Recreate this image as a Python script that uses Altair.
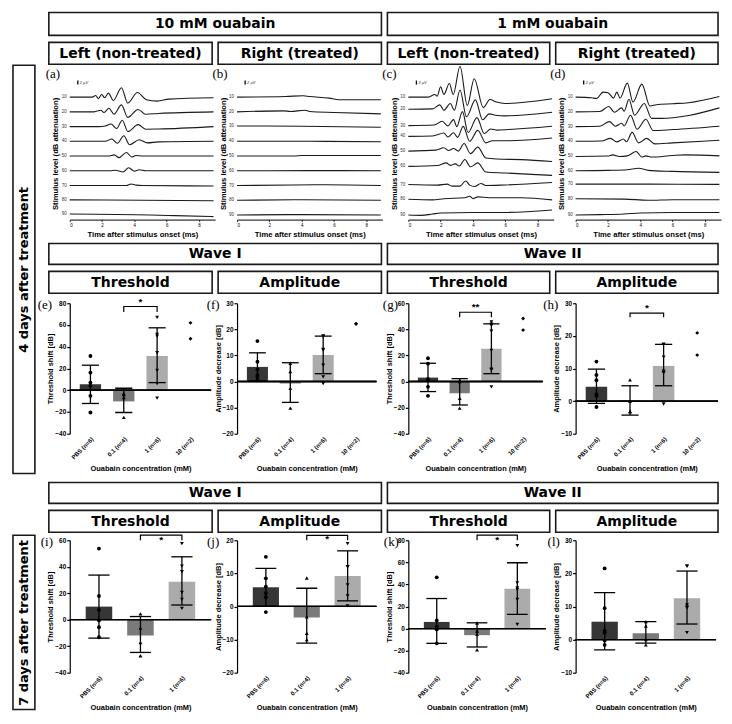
import altair as alt
import pandas as pd

SANS = "Liberation Sans"
HEAD = "DejaVu Sans"
SERIF = "Liberation Serif"

# ---------------- ABR traces (a)-(d): (time ms, deflection µV) for each level ----------------
LEVELS = ["10", "20", "30", "40", "50", "60", "70", "80", "90"]
TIME_TICKS = [0, 2, 4, 6, 8]
SCALE_BAR_UV = [6.3, 8.3]
SCALE_BAR_T = 0.5
SCALE_BAR_LABEL = "2 µV"

TRACES_A = [
    [(0, 0), (1.4, 0), (1.61, 0.8), (1.77, -0.8), (1.98, 1.3), (2.16, -0.3), (2.39, 2.0), (2.7, -1.7),
     (3.2, 4.7), (3.59, -3.0), (4.19, 2.3), (4.74, -1.3), (5.42, -2.0), (6.14, -1.0), (8.9, -0.3)],
    [(0, 0), (1.5, 0), (1.92, 0.8), (2.12, -0.3), (2.43, 1.8), (2.74, -1.2), (3.2, 3.5), (3.59, -2.8),
     (4.23, 1.2), (4.7, -1.2), (5.5, -0.8), (8.9, 0)],
    [(0, 0), (1.8, 0), (2.2, 0.3), (2.56, 1.3), (2.9, -1.0), (3.25, 3.2), (3.6, -2.5), (4.23, 1.0),
     (4.7, -1.3), (5.5, -1.2), (8.9, 0)],
    [(0, 0), (2.2, 0), (2.6, 1.2), (2.95, -1.0), (3.35, 2.8), (3.7, -1.7), (4.3, 0.8), (4.8, -0.8),
     (5.5, -0.3), (8.9, 0)],
    [(0, 0), (2.4, 0), (2.75, 0.6), (3.05, -0.8), (3.5, 1.8), (3.85, -0.5), (4.1, 0.3), (4.5, 0), (8.9, 0)],
    [(0, 0), (2.5, 0), (2.8, 0.3), (3.3, -0.6), (3.65, 1.5), (4.0, -0.2), (4.3, 0.5), (4.7, 0), (8.9, 0)],
    [(0, 0), (3.5, 0), (3.8, 0.8), (4.1, 0.2), (4.5, 0), (8.9, -0.2)],
    [(0, 0.2), (4.5, 0), (8.9, -0.2)],
    [(0, 0.5), (5, 0), (6.5, -0.3), (8.9, -0.8)],
]
TRACES_B = [
    [(0, 0), (3, 0.3), (4.1, 0.7), (4.5, 0.3), (5.7, -0.5), (6.3, -1.3), (8.9, -1.3)],
    [(0, 0), (2.9, 0.5), (3.3, 0.2), (4.2, 0.8), (4.5, 0.2), (6, -0.3), (8.9, -1.0)],
    [(0, 0.3), (4, 0.2), (8.9, -0.3)],
    [(0, 0), (4.5, 0), (8.9, -0.2)],
    [(0, 0), (3.5, 0), (4, 0.3), (8.9, 0.3)],
    [(0, 0), (4.5, 0.1), (8.9, 0)],
    [(0, 0), (3.5, 0.3), (5.5, 0.4), (8.9, 0)],
    [(0, 0), (4, 0.3), (8.9, 0)],
    [(0, 0), (4, 0.2), (8.9, 0)],
]
TRACES_C = [
    [(0, 0), (1.24, 0), (1.65, 1.3), (1.79, 0.5), (2.0, 5.2), (2.2, 1.3), (2.54, 6.8), (2.78, 1.3),
     (3.2, 15.5), (3.65, -4.2), (4.08, 9.2), (4.64, -5.3), (5.05, -1.2), (5.46, -2.5), (5.98, -3.2), (8.9, -0.8)],
    [(0, 1.3), (1.5, 1.5), (1.95, 3.5), (2.2, 0.8), (2.6, 4.2), (2.85, 0.8), (3.2, 11.0), (3.6, -2.5),
     (4.15, 6.0), (4.6, -4.0), (5.0, -1.0), (5.4, -1.7), (6, -2.0), (8.9, -0.2)],
    [(0, 0.5), (1.6, 0.8), (2.1, 2.7), (2.45, 0.3), (2.8, 3.5), (3.0, 0), (3.35, 7.5), (3.7, -3.0),
     (4.25, 4.5), (4.7, -3.5), (5.1, -1.2), (5.5, -1.8), (6.2, -1.5), (8.9, 0.2)],
    [(0, 2.5), (1.5, 2.7), (2.2, 4.2), (2.45, 2.2), (2.8, 4.3), (3.05, 2.0), (3.4, 7.5), (3.8, 0),
     (4.3, 5.5), (4.8, -0.8), (5.2, 0.3), (6, 0.3), (8.9, 1.7)],
    [(0, 2.5), (1.7, 3.0), (2.2, 4.2), (2.5, 2.8), (2.8, 3.8), (3.1, 2.5), (3.45, 6.3), (3.85, 1.2),
     (4.3, 4.5), (4.8, -1.0), (5.5, -1.5), (7, -1.8), (8.9, -2.7)],
    [(0, 2.2), (1.8, 2.7), (2.35, 4.0), (2.6, 2.7), (2.9, 3.5), (3.15, 2.4), (3.5, 5.7), (3.85, 2.0),
     (4.3, 4.0), (4.8, -0.6), (6, -1.1), (8.9, -2.3)],
    [(0, 0.5), (1.8, 0.2), (2.4, 0.7), (2.7, -0.3), (3.2, -0.3), (3.55, 2.3), (3.8, 0.2), (4.1, -0.5),
     (4.5, 1.0), (4.8, 0), (6, 0.3), (8.9, 1.5)],
    [(0, 0.5), (1.5, 0.2), (2.2, 0.8), (3.5, 1.3), (3.8, 2.0), (4.0, 0.8), (4.3, 1.7), (5, 1.3),
     (7, 1.3), (8.9, 0.2)],
    [(0, 0), (0.8, -0.2), (1.5, 0.5), (2, 1.0), (4, 1.3), (6, 1.3), (8.9, 2.5)],
]
TRACES_D = [
    [(0, 0), (1.0, -0.3), (1.3, -0.7), (1.7, 2.5), (2.0, 2.2), (2.35, -0.5), (2.55, 2.5), (2.75, -0.5),
     (3.2, 7.0), (3.55, -2.5), (4.1, 6.5), (4.6, -4.5), (5, -3.8), (6, -3.3), (7, -2.8), (8.9, 0.3)],
    [(0, 0), (1.5, 0.2), (2.05, 2.7), (2.4, -0.2), (2.85, 2.0), (3.0, 0.3), (3.3, 6.3), (3.65, -1.7),
     (4.25, 4.2), (4.7, -3.3), (5.3, -3.3), (7, -1.8), (8.9, 2.0)],
    [(0, 0), (1.5, 0.2), (2.1, 2.5), (2.45, 0.2), (2.85, 1.7), (3.0, 0.3), (3.4, 5.7), (3.8, -1.3),
     (4.35, 3.7), (4.8, -2.0), (6, -1.5), (8.9, 0.2)],
    [(0, 0), (1.6, 0.2), (2.15, 1.5), (2.55, -0.3), (2.95, 1.2), (3.15, -0.2), (3.5, 4.5), (3.9, -0.8),
     (4.4, 1.5), (4.9, -1.3), (6, -0.8), (8.9, 0.5)],
    [(0, -0.2), (2.0, 0), (2.3, 0.6), (2.7, -0.2), (3.2, 0.1), (3.75, 2.3), (4.1, -0.5), (4.35, 0.1),
     (4.7, -0.5), (6, 0.3), (6.8, 0.6), (8.9, 0.1)],
    [(0, 0), (2, 0.2), (3.2, 0.5), (3.9, 1.3), (4.5, 0.2), (6, -0.3), (8.9, -0.8)],
    [(0, 0.7), (4.5, 0.7), (8.9, 0.6)],
    [(0, 0.8), (3, 0.6), (4.5, 0), (6, 0.3), (8.9, 0.3)],
    [(0, 0), (1.5, 0.2), (3, 0.5), (4, 1.0), (6, 1.3), (8.9, 1.3)],
]

# ---------------- bar panels ----------------
CATS_4D = ["PBS (n=6)", "0.1 (n=4)", "1 (n=6)", "10 (n=2)"]
CATS_7D = ["PBS (n=6)", "0.1 (n=4)", "1 (n=6)"]
BAR_COLORS = ["#363636", "#7a7a7a", "#ababab", "#cccccc"]
SHAPES = ["circle", "triangle-up", "triangle-down", "diamond"]

E_POINTS = [[31.5, 16.2, 7.0, 4.0, -5.2, -20.5], [-3.0, -4.0, -6.7, -25.0],
            [67.0, 51.3, 49.8, 34.5, 18.3, 6.0, -7.3], [62.0, 47.3]]
E_MEAN = [5.5, -10.3, 31.5]
E_LOW = [-12.2, -20.5, 7.0]
E_HIGH = [23.0, 1.8, 57.4]

F_POINTS = [[15.5, 7.6, 4.5, 2.5, 1.8, 0.5], [7.0, 3.8, -2.6, -10.2],
            [17.5, 17.3, 12.3, 12.0, 6.3, 1.8, -0.8], [22.1, 22.1]]
F_MEAN = [5.6, -0.8, 10.2]
F_LOW = [0.2, -8.0, 3.0]
F_HIGH = [11.0, 7.2, 17.4]

G_POINTS = [[17.8, 13.7, 1.7, 1.7, -4.1, -11.0], [1.0, 0.0, -12.8, -20.4],
            [45.7, 44.0, 43.0, 38.6, 23.9, 9.4, 9.0, -4.1], [48.3, 39.4]]
G_MEAN = [3.0, -9.0, 25.1]
G_LOW = [-7.7, -18.0, 6.0]
G_HIGH = [14.0, 2.2, 44.2]

H_POINTS = [[12.1, 8.0, 6.4, 2.1, 1.6, -1.8], [6.5, -0.1, -3.2, -3.2],
            [17.4, 17.4, 13.5, 9.2, 8.7, 8.7, -0.9], [20.9, 14.1]]
H_MEAN = [4.4, 0.2, 10.8]
H_LOW = [-0.7, -4.3, 4.7]
H_HIGH = [9.8, 4.7, 17.4]

I_POINTS = [[53.7, 17.9, 7.4, -0.5, -5.6, -13.2], [4.4, -6.4, -17.2, -27.2],
            [57.5, 40.5, 36.2, 20.7, 15.4, 8.6]]
I_MEAN = [9.9, -12.0, 28.7]
I_LOW = [-13.9, -24.7, 11.1]
I_HIGH = [33.7, 2.4, 47.5]

J_POINTS = [[15.0, 8.5, 6.0, 4.0, 2.8, -1.7], [8.6, -3.1, -8.1, -10.0],
            [19.0, 12.0, 12.0, 6.5, 3.2, 0.2]]
J_MEAN = [5.8, -3.3, 9.2]
J_LOW = [0.0, -11.1, 1.7]
J_HIGH = [11.5, 5.5, 16.8]

K_POINTS = [[46.4, 7.4, 2.0, -0.6, -0.6, -13.4], [5.0, -2.2, -5.2, -19.3],
            [75.1, 41.4, 36.9, 35.4, 26.3, 3.8]]
K_MEAN = [6.0, -6.0, 36.1]
K_LOW = [-13.4, -16.7, 12.9]
K_HIGH = [27.2, 5.2, 59.6]

L_POINTS = [[21.5, 9.5, 2.7, 2.1, -0.3, -1.6], [5.4, 4.1, 0.0, -1.6],
            [22.2, 22.2, 10.5, 9.9, 9.6, 2.1]]
L_MEAN = [5.4, 1.9, 12.5]
L_LOW = [-3.1, -1.1, 4.7]
L_HIGH = [14.2, 5.4, 20.7]

# significance brackets: (from, to, line level, tip level, label, label level)
E_BRACKET = ("0.1 (n=4)", "1 (n=6)", 77, 72, "*", 81)
G_BRACKET = ("0.1 (n=4)", "1 (n=6)", 53.1, 49.3, "**", 57)
H_BRACKET = ("0.1 (n=4)", "1 (n=6)", 27, 25.7, "*", 28.6)
I_BRACKET = ("0.1 (n=4)", "1 (n=6)", 63.8, 60, "*", 60.5)
J_BRACKET = ("0.1 (n=4)", "1 (n=6)", 21.5, 20, "*", 20.3)
K_BRACKET = ("0.1 (n=4)", "1 (n=6)", 84.6, 80, "*", 80.5)

THR_TITLE = "Threshold shift [dB]"
AMP_TITLE = "Amplitude decrease [dB]"
X_TITLE = "Ouabain concentration (mM)"

# ---------------- layout ----------------
COL_X = [12, 69, 237, 409, 577]
COL_W = [35, 146, 150, 146, 146]
TRACE_W, TRACE_H = 146, 133
LEVEL_GAP = 7.4


def rel(c, x):
    return x - COL_X[c]


def box(label, x0, x1, y0, y1, size=14, angle=0):
    d = pd.DataFrame({"label": [label]})
    rect = alt.Chart(d).mark_rect(fillOpacity=0, stroke="#1a1a1a", strokeWidth=1.6).encode(
        x=alt.value(x0), x2=alt.value(x1), y=alt.value(y0), y2=alt.value(y1))
    txt = alt.Chart(d).mark_text(font=HEAD, fontSize=size, fontWeight="bold", angle=angle,
                                 align="center", baseline="middle", color="black").encode(
        text="label:N", x=alt.value((x0 + x1) / 2), y=alt.value((y0 + y1) / 2 + 0.5))
    return [rect, txt]


def cell(layers, w, h):
    return alt.layer(*layers).properties(width=w, height=h)


def empty(w, h):
    d = pd.DataFrame({"v": [0]})
    return alt.Chart(d).mark_rect(opacity=0).encode(
        x=alt.value(0), x2=alt.value(1), y=alt.value(0), y2=alt.value(1)).properties(width=w, height=h)


def letter_layer(letter, x, y):
    d = pd.DataFrame({"lab": [letter]})
    return alt.Chart(d).mark_text(font=SERIF, fontSize=13, align="center", baseline="middle",
                                  color="black").encode(text="lab:N", x=alt.value(x), y=alt.value(y))


def trace_panel(traces, letter, lx):
    rows, labs = [], []
    for i, (lvl, pts) in enumerate(zip(LEVELS, traces)):
        for t, v in pts:
            rows.append({"level": lvl, "t": t, "v": v - i * LEVEL_GAP})
        labs.append({"level": lvl, "t": pts[0][0], "v": pts[0][1] - i * LEVEL_GAP})
    df = pd.DataFrame(rows)
    ldf = pd.DataFrame(labs)
    xs = alt.Scale(domain=[0, 9], nice=False, zero=False)
    ys = alt.Scale(domain=[-61.5, 5], nice=False, zero=False)
    xax = alt.Axis(values=TIME_TICKS, title="Time after stimulus onset (ms)", tickSize=2, tickWidth=0.8,
                   labelFontSize=4.5, labelPadding=1, domainWidth=1, titleFontSize=7.7,
                   titleFontWeight="bold", titleY=15, titleBaseline="middle", grid=False,
                   labelOverlap=False)
    yax = alt.Axis(title="Stimulus level (dB attenuation)", labels=False, ticks=False, domain=False,
                   grid=False, titleFontSize=7.7, titleFontWeight="bold", titleX=-14, titleY=TRACE_H / 2,
                   titleAngle=270, titleBaseline="middle", titleAlign="center")
    X = alt.X("t:Q", scale=xs, axis=xax)
    Y = alt.Y("v:Q", scale=ys, axis=yax)
    lines = alt.Chart(df).mark_line(color="#1a1a1a", strokeWidth=1.1, interpolate="monotone").encode(
        x=X, y=Y, detail="level:N")
    labels = alt.Chart(ldf).mark_text(align="right", baseline="middle", fontSize=4.5, dx=-3, font=SANS,
                                      color="#333333").encode(x=X, y=Y, text="level:N")
    sb = pd.DataFrame({"t": [SCALE_BAR_T], "v": [SCALE_BAR_UV[0]], "v2": [SCALE_BAR_UV[1]],
                       "lab": [SCALE_BAR_LABEL]})
    sb["vm"] = (sb["v"] + sb["v2"]) / 2
    bar = alt.Chart(sb).mark_rule(color="black", strokeWidth=1.3).encode(x=X, y=Y, y2="v2:Q")
    bar_t = alt.Chart(sb).mark_text(align="left", baseline="middle", dx=2, fontSize=4, font=SANS,
                                    fontStyle="italic", color="#333333").encode(
        x=X, y=alt.Y("vm:Q", scale=ys, axis=yax), text="lab:N")
    return alt.layer(lines, labels, bar, bar_t, letter_layer(letter, lx, -13)).properties(
        width=TRACE_W, height=TRACE_H)


def bar_panel(cats, points, means, low, high, ydom, yticks, ytitle, letter, lx, width, height,
              bracket=None):
    n = len(cats)
    pi = 0.36
    po = 0.3 if n == 4 else 0.385
    step = width / (n - pi + 2 * po)
    bw = step * (1 - pi)
    xs = alt.Scale(domain=cats, paddingInner=pi, paddingOuter=po)
    ys = alt.Scale(domain=ydom, nice=False, zero=False)
    xax = alt.Axis(title=X_TITLE, labelAngle=315, labelFontSize=6, labelFontWeight="bold", labelPadding=2,
                   ticks=False, domain=False, grid=False, titleFontSize=7.5, titleFontWeight="bold",
                   titleY=35, titleBaseline="middle", labelOverlap=False)
    yax = alt.Axis(values=yticks, title=ytitle, tickSize=3, tickWidth=1.2, domainWidth=1.2,
                   labelFontSize=6.5, labelFontWeight="bold", labelPadding=1, grid=False,
                   labelOverlap=False, labelFlush=False,
                   titleFontSize=7.5, titleFontWeight="bold", titleX=-19, titleY=height / 2,
                   titleAngle=270, titleBaseline="middle", titleAlign="center")

    def X(f):
        return alt.X(f, scale=xs, axis=xax)

    def Y(f):
        return alt.Y(f, scale=ys, axis=yax)

    bdf = pd.DataFrame({"cat": cats[:len(means)], "mean": means, "lo": low, "hi": high, "zero": 0.0})
    caps = pd.DataFrame({"cat": list(bdf["cat"]) * 2, "val": list(low) + list(high)})
    pts = pd.DataFrame([{"cat": c, "value": v} for c, vals in zip(cats, points) for v in vals])

    bars = alt.Chart(bdf).mark_bar().encode(
        x=X("cat:N"), y=Y("mean:Q"), y2="zero:Q",
        color=alt.Color("cat:N", scale=alt.Scale(domain=CATS_4D, range=BAR_COLORS), legend=None))
    zero = alt.Chart(bdf).mark_rule(color="black", strokeWidth=1.3).encode(y=Y("zero:Q"))
    err = alt.Chart(bdf).mark_rule(color="black", strokeWidth=1.3).encode(x=X("cat:N"), y=Y("lo:Q"),
                                                                           y2="hi:Q")
    cap = alt.Chart(caps).mark_tick(color="black", thickness=1.3, size=bw * 0.8, opacity=1).encode(
        x=X("cat:N"), y=Y("val:Q"))
    dots = alt.Chart(pts).mark_point(filled=True, size=15, color="black", opacity=1).encode(
        x=X("cat:N"), y=Y("value:Q"),
        shape=alt.Shape("cat:N", scale=alt.Scale(domain=CATS_4D, range=SHAPES), legend=None))
    layers = [bars, zero, err, cap, dots]
    if bracket is not None:
        a, b, lvl, tip, lab, ly = bracket
        br = pd.DataFrame({"cat": [a, a, b, b], "y": [tip, lvl, lvl, tip], "o": [0, 1, 2, 3]})
        layers.append(alt.Chart(br).mark_line(color="black", strokeWidth=1.2).encode(
            x=X("cat:N"), y=Y("y:Q"), order="o:Q"))
        st = pd.DataFrame({"cat": [a], "y": [ly], "lab": [lab]})
        layers.append(alt.Chart(st).mark_text(dx=step / 2, fontSize=10, fontWeight="bold", font=SANS,
                                              baseline="middle", color="black").encode(
            x=X("cat:N"), y=Y("y:Q"), text="lab:N"))
    layers.append(letter_layer(letter, lx, 2))
    return alt.layer(*layers).properties(width=width, height=height)


# ---------------- rows ----------------
# row 0 : concentration / ear headers and the two vertical period labels
r0 = [
    cell(box("4 days after treatment", 0, 22, 53, 463, size=13, angle=270)
         + box("7 days after treatment", 0, 22, 525, 700, size=13, angle=270), COL_W[0], 75),
    cell(box("10 mM ouabain", rel(1, 48), rel(1, 382), 0, 23)
         + box("Left (non-treated)", rel(1, 48), rel(1, 212), 30, 52), COL_W[1], 75),
    cell(box("Right (treated)", rel(2, 218), rel(2, 382), 30, 52), COL_W[2], 75),
    cell(box("1 mM ouabain", rel(3, 388), rel(3, 720), 0, 23)
         + box("Left (non-treated)", rel(3, 388), rel(3, 551), 30, 52), COL_W[3], 75),
    cell(box("Right (treated)", rel(4, 557), rel(4, 720), 30, 52), COL_W[4], 75),
]
r1 = [
    empty(COL_W[0], TRACE_H),
    trace_panel(TRACES_A, "(a)", -17),
    trace_panel(TRACES_B, "(b)", -17),
    trace_panel(TRACES_C, "(c)", -19),
    trace_panel(TRACES_D, "(d)", -18),
]


def wave_row(h, yw, yt):
    return [
        empty(COL_W[0], h),
        cell(box("Wave I", rel(1, 48), rel(1, 382), yw, yw + 21)
             + box("Threshold", rel(1, 48), rel(1, 212), yt, yt + 22), COL_W[1], h),
        cell(box("Amplitude", rel(2, 218), rel(2, 382), yt, yt + 22), COL_W[2], h),
        cell(box("Wave II", rel(3, 388), rel(3, 720), yw, yw + 21)
             + box("Threshold", rel(3, 388), rel(3, 551), yt, yt + 22), COL_W[3], h),
        cell(box("Amplitude", rel(4, 557), rel(4, 720), yt, yt + 22), COL_W[4], h),
    ]


r2 = wave_row(84, 24, 52)
r3 = [
    empty(COL_W[0], 131),
    bar_panel(CATS_4D, E_POINTS, E_MEAN, E_LOW, E_HIGH, [-40, 80], [-40, -20, 0, 20, 40, 60, 80],
              THR_TITLE, "(e)", -25, 142, 131, E_BRACKET),
    bar_panel(CATS_4D, F_POINTS, F_MEAN, F_LOW, F_HIGH, [-20, 30], [-20, -10, 0, 10, 20, 30],
              AMP_TITLE, "(f)", -24, 140, 131),
    bar_panel(CATS_4D, G_POINTS, G_MEAN, G_LOW, G_HIGH, [-40, 60], [-40, -20, 0, 20, 40, 60],
              THR_TITLE, "(g)", -18, 135, 131, G_BRACKET),
    bar_panel(CATS_4D, H_POINTS, H_MEAN, H_LOW, H_HIGH, [-10, 30], [-10, 0, 10, 20, 30],
              AMP_TITLE, "(h)", -25, 143, 131, H_BRACKET),
]
r4 = wave_row(107, 49, 77)
r5 = [
    empty(COL_W[0], 133),
    bar_panel(CATS_7D, I_POINTS, I_MEAN, I_LOW, I_HIGH, [-40, 60], [-40, -20, 0, 20, 40, 60],
              THR_TITLE, "(i)", -23, 142, 133, I_BRACKET),
    bar_panel(CATS_7D, J_POINTS, J_MEAN, J_LOW, J_HIGH, [-20, 20], [-20, -10, 0, 10, 20],
              AMP_TITLE, "(j)", -24, 140, 133, J_BRACKET),
    bar_panel(CATS_7D, K_POINTS, K_MEAN, K_LOW, K_HIGH, [-40, 80], [-40, -20, 0, 20, 40, 60, 80],
              THR_TITLE, "(k)", -17, 138, 133, K_BRACKET),
    bar_panel(CATS_7D, L_POINTS, L_MEAN, L_LOW, L_HIGH, [-10, 30], [-10, 0, 10, 20, 30],
              AMP_TITLE, "(l)", -22, 141, 133),
]

chart = alt.concat(*(r0 + r1 + r2 + r3 + r4 + r5), columns=5, spacing={"row": 0, "column": 22},
                   bounds="flush", align="each").properties(
    padding={"left": 4, "top": 2, "right": 2, "bottom": 2}, background="white"
).configure_view(stroke=None).configure_axis(
    labelFont=SANS, titleFont=SANS, labelColor="black", titleColor="black",
    domainColor="black", tickColor="black", grid=False, labelOverlap=False)

chart.save("out.html", embed_options={"renderer": "svg", "actions": False})
